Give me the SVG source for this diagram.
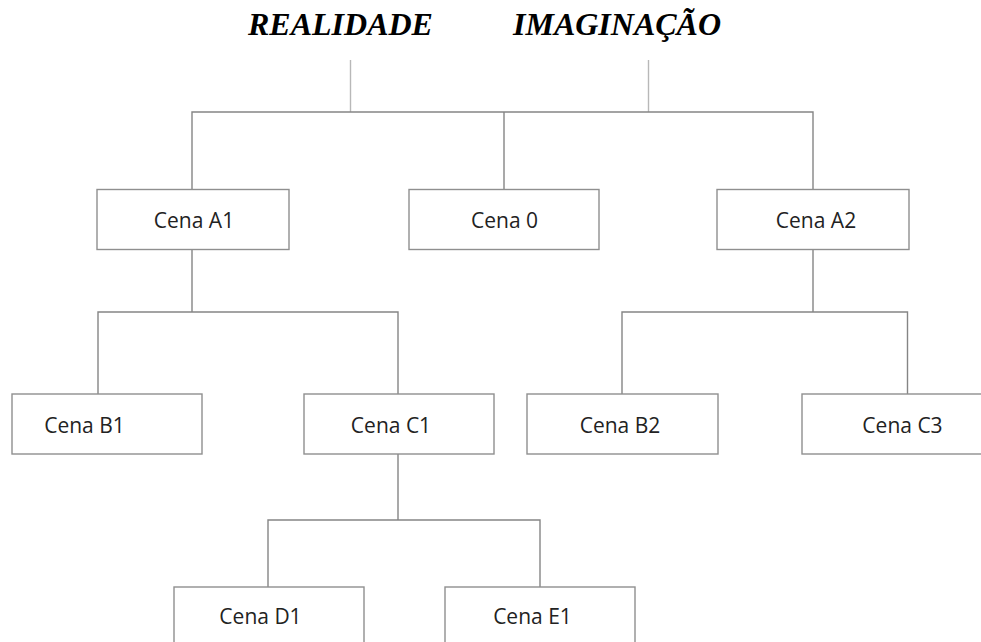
<svg xmlns="http://www.w3.org/2000/svg" width="981" height="642" viewBox="0 0 981 642">
  <style>
    .title { font-family: "Liberation Serif", "Times New Roman", serif; font-size: 32px; font-weight: bold; font-style: italic; fill: #000; }
    .box { fill: #fff; stroke: #8f8f8f; stroke-width: 1.4; }
    .label { font-family: "Open Sans", "Liberation Sans", sans-serif; font-size: 21px; fill: #222; text-anchor: middle; }
    .wire { fill: none; stroke: #858585; stroke-width: 1.4; }
    .wire-light { fill: none; stroke: #b8b8b8; stroke-width: 1.4; }
  </style>
  <rect width="981" height="642" fill="#fff"/>

  <text class="title" x="248" y="35">REALIDADE</text>
  <text class="title" x="513" y="35">IMAGINAÇÃO</text>

  <g id="connectors">
    <path class="wire-light" d="M350.5 60 V112 M648.5 60 V112"/>
    <path class="wire" d="M192 189 V112 H813 V189 M504 112 V189"/>
    <path class="wire" d="M192 250 V312 M98 394 V312 H398 V394"/>
    <path class="wire" d="M813 250 V312 M622 394 V312 H907.5 V394"/>
    <path class="wire" d="M398 454 V520 M268 587 V520 H540 V587"/>
  </g>

  <g id="cena-a1">
    <rect class="box" x="97" y="189.5" width="192" height="60"/>
    <text class="label" x="194" y="227.5">Cena A1</text>
  </g>
  <g id="cena-0">
    <rect class="box" x="409" y="189.5" width="190" height="60"/>
    <text class="label" x="504.5" y="227.5">Cena 0</text>
  </g>
  <g id="cena-a2">
    <rect class="box" x="717" y="189.5" width="192" height="60"/>
    <text class="label" x="816" y="227.5">Cena A2</text>
  </g>
  <g id="cena-b1">
    <rect class="box" x="12" y="394" width="190" height="60"/>
    <text class="label" x="84.5" y="432.5">Cena B1</text>
  </g>
  <g id="cena-c1">
    <rect class="box" x="304" y="394" width="190" height="60"/>
    <text class="label" x="391" y="432.5">Cena C1</text>
  </g>
  <g id="cena-b2">
    <rect class="box" x="527" y="394" width="191" height="60"/>
    <text class="label" x="620" y="432.5">Cena B2</text>
  </g>
  <g id="cena-c3">
    <rect class="box" x="802" y="394" width="191" height="60"/>
    <text class="label" x="902.5" y="432.5">Cena C3</text>
  </g>
  <g id="cena-d1">
    <rect class="box" x="174" y="587" width="190" height="60"/>
    <text class="label" x="260.5" y="623.5">Cena D1</text>
  </g>
  <g id="cena-e1">
    <rect class="box" x="445" y="587" width="190" height="60"/>
    <text class="label" x="532.5" y="623.5">Cena E1</text>
  </g>
</svg>
